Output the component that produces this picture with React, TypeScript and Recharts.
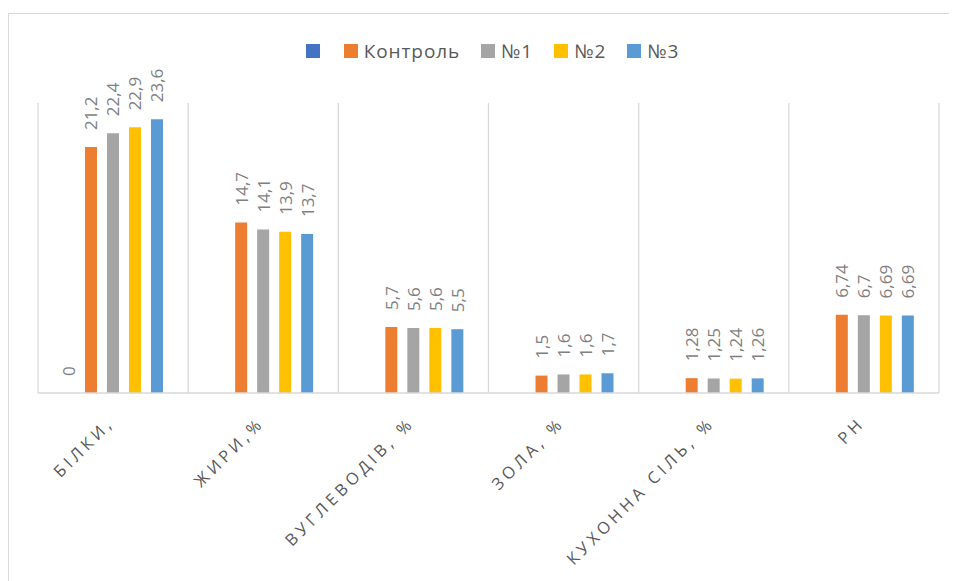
import { BarChart, Bar, XAxis, YAxis, CartesianGrid, Legend } from 'recharts';

const categories = ['БІЛКИ,', 'ЖИРИ,%', 'ВУГЛЕВОДІВ, %', 'ЗОЛА, %', 'КУХОННА СІЛЬ, %', 'РН'];

// first series only carries a zero in the first group
const blank = [0, null, null, null, null, null];
const control = [21.2, 14.7, 5.7, 1.5, 1.28, 6.74];
const sample1 = [22.4, 14.1, 5.6, 1.6, 1.25, 6.7];
const sample2 = [22.9, 13.9, 5.6, 1.6, 1.24, 6.69];
const sample3 = [23.6, 13.7, 5.5, 1.7, 1.26, 6.69];

const series = [
    { key: 's0', name: '', color: '#4472C4', values: blank },
    { key: 's1', name: 'Контроль', color: '#ED7D31', values: control },
    { key: 's2', name: '№1', color: '#A5A5A5', values: sample1 },
    { key: 's3', name: '№2', color: '#FFC000', values: sample2 },
    { key: 's4', name: '№3', color: '#5B9BD5', values: sample3 },
];

const data = categories.map((name, i) => {
    const row: any = { name };
    series.forEach((s) => {
        row[s.key] = s.values[i];
    });
    return row;
});

const FONT = '"Open Sans", "DejaVu Sans", sans-serif';

const renderValueLabel = (props: any) => {
    const { x, y, width, value } = props;
    if (value === null || value === undefined) return null;
    const cx = x + width / 2;
    const ty = y - 17;
    return (
        <text
            x={cx}
            y={ty}
            transform={`rotate(-90, ${cx}, ${ty})`}
            textAnchor="start"
            dominantBaseline="central"
            fontSize={17}
            fontFamily={FONT}
            fill="#7f7f7f"
        >
            {String(value).replace('.', ',')}
        </text>
    );
};

const CategoryTick = (props: any) => {
    const { x, y, payload } = props;
    const tx = x + 2;
    const ty = y + 23;
    return (
        <text
            x={tx}
            y={ty}
            transform={`rotate(-45, ${tx}, ${ty})`}
            textAnchor="end"
            fontSize={16.5}
            fontFamily={FONT}
            letterSpacing={4}
            fill="#595959"
        >
            {payload.value}
        </text>
    );
};

const renderLegend = () => (
    <div
        style={{
            display: 'flex',
            justifyContent: 'center',
            alignItems: 'center',
            paddingLeft: 40,
            height: 26,
            fontFamily: FONT,
            fontSize: 19,
            letterSpacing: 0.9,
            color: '#595959',
        }}
    >
        {series.map((s) => (
            <div key={s.key} style={{ display: 'flex', alignItems: 'center', marginRight: 21 }}>
                <span style={{ width: 14, height: 14, background: s.color, display: 'inline-block' }} />
                <span style={{ marginLeft: s.name ? 6 : 3 }}>{s.name}</span>
            </div>
        ))}
    </div>
);

export default function App() {
    return (
        <>
            <style>{'html, body { overflow: hidden; }'}</style>
            <div
                style={{
                    marginTop: 5,
                    width: 948,
                    height: 567,
                    borderTop: '1px solid #d9d9d9',
                    borderLeft: '1px solid #d9d9d9',
                    background: '#fff',
                }}
            >
                <BarChart
                    width={948}
                    height={567}
                    data={data}
                    margin={{ top: 63, right: 18, bottom: 10, left: 29 }}
                    barSize={12}
                    barGap={10}
                >
                    <CartesianGrid
                        horizontal={false}
                        stroke="#d9d9d9"
                        strokeWidth={1.3}
                        verticalCoordinatesGenerator={({ offset }: any) =>
                            categories.concat(['']).map((_, i) => offset.left + (offset.width * i) / categories.length)
                        }
                    />
                    <XAxis
                        dataKey="name"
                        height={178}
                        tickLine={false}
                        axisLine={{ stroke: '#d9d9d9', strokeWidth: 1.3 }}
                        tick={<CategoryTick />}
                        interval={0}
                    />
                    <YAxis hide domain={[0, 25]} />
                    <Legend verticalAlign="top" wrapperStyle={{ top: 24, left: 0, width: 948 }} content={renderLegend} />
                    {series.map((s) => (
                        <Bar
                            key={s.key}
                            dataKey={s.key}
                            name={s.name}
                            fill={s.color}
                            minPointSize={s.key === 's0' ? 0.01 : 0}
                            isAnimationActive={false}
                            label={renderValueLabel}
                        />
                    ))}
                </BarChart>
            </div>
        </>
    );
}
